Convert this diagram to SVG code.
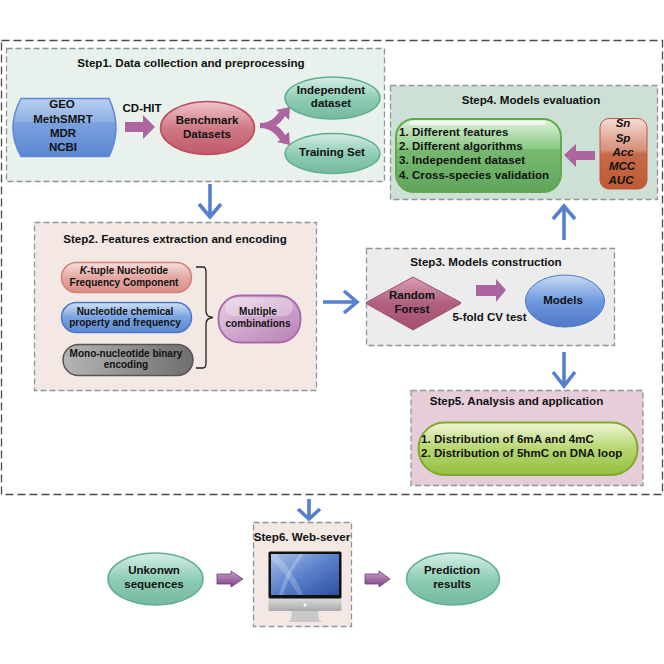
<svg xmlns="http://www.w3.org/2000/svg" width="664" height="664" viewBox="0 0 664 664">
<style>
text{font-family:"Liberation Sans",Arial,sans-serif;font-weight:700;fill:#111;text-anchor:middle}
.t{font-size:11.6px}.m{font-size:11.5px}.s{font-size:10px}.l{text-anchor:start;font-size:11.5px;letter-spacing:.07px}
.box{stroke:#8f9696;stroke-width:1.3;stroke-dasharray:6 3}
.blue{fill:none;stroke:#5680cf;stroke-width:3.6}
.pink{fill:#ac659f}
.gloss{fill:#fff;opacity:.3}
</style>
<defs>
<linearGradient id="gBlue" x1="0" y1="0" x2="0" y2="1"><stop offset="0" stop-color="#b9cff0"/><stop offset=".4" stop-color="#8fb0e4"/><stop offset=".42" stop-color="#7ba0de"/><stop offset="1" stop-color="#5c88d2"/></linearGradient>
<linearGradient id="gRed" x1="0" y1="0" x2="0" y2="1"><stop offset="0" stop-color="#f0c6cb"/><stop offset=".5" stop-color="#cf7a86"/><stop offset="1" stop-color="#bf5a68"/></linearGradient>
<linearGradient id="gTeal" x1="0" y1="0" x2="0" y2="1"><stop offset="0" stop-color="#d8efe6"/><stop offset=".5" stop-color="#8fcdb5"/><stop offset="1" stop-color="#74b99f"/></linearGradient>
<linearGradient id="gGreen" x1="0" y1="0" x2="0" y2="1"><stop offset="0" stop-color="#e0f2dc"/><stop offset=".4" stop-color="#8cca85"/><stop offset=".42" stop-color="#78b972"/><stop offset="1" stop-color="#5fa659"/></linearGradient>
<linearGradient id="gOrange" x1="0" y1="0" x2="0" y2="1"><stop offset="0" stop-color="#f5dcd6"/><stop offset=".45" stop-color="#d68f78"/><stop offset=".5" stop-color="#c66a48"/><stop offset="1" stop-color="#bd5a36"/></linearGradient>
<linearGradient id="gPinkPill" x1="0" y1="0" x2="0" y2="1"><stop offset="0" stop-color="#f6dedb"/><stop offset=".5" stop-color="#e3a8a2"/><stop offset="1" stop-color="#d98f88"/></linearGradient>
<linearGradient id="gBluePill" x1="0" y1="0" x2="0" y2="1"><stop offset="0" stop-color="#cfe0f5"/><stop offset=".5" stop-color="#79a3e0"/><stop offset="1" stop-color="#5b88d2"/></linearGradient>
<linearGradient id="gGrey" x1="0" y1="0" x2="1" y2="0"><stop offset="0" stop-color="#b5b5b5"/><stop offset="1" stop-color="#6e6e6e"/></linearGradient>
<linearGradient id="gPurple" x1="0" y1="0" x2="1" y2="1"><stop offset="0" stop-color="#e8cfe6"/><stop offset="1" stop-color="#b67fb5"/></linearGradient>
<linearGradient id="gRose" x1="0" y1="0" x2="0" y2="1"><stop offset="0" stop-color="#d9a0b6"/><stop offset=".5" stop-color="#b0607f"/><stop offset="1" stop-color="#a54e72"/></linearGradient>
<linearGradient id="gLime" x1="0" y1="0" x2="0" y2="1"><stop offset="0" stop-color="#eef6d8"/><stop offset=".5" stop-color="#b7d66f"/><stop offset="1" stop-color="#93bf40"/></linearGradient>
<linearGradient id="gModels" x1="0" y1="0" x2="0" y2="1"><stop offset="0" stop-color="#c9dcf4"/><stop offset=".5" stop-color="#6f9ade"/><stop offset="1" stop-color="#4f78c6"/></linearGradient>
<linearGradient id="gScreen" x1="0" y1="0" x2="1" y2="1"><stop offset="0" stop-color="#a8bfe6"/><stop offset=".5" stop-color="#5a80cb"/><stop offset="1" stop-color="#2f4f9f"/></linearGradient>
<linearGradient id="gSilver" x1="0" y1="0" x2="0" y2="1"><stop offset="0" stop-color="#dcdcdc"/><stop offset="1" stop-color="#a9a9a9"/></linearGradient>
<linearGradient id="gPurpleArrow" x1="0" y1="0" x2="0" y2="1"><stop offset="0" stop-color="#c9a0c9"/><stop offset="1" stop-color="#7c3f85"/></linearGradient>
</defs>
<rect width="664" height="664" fill="#fff"/>
<rect id="outer" x="1.500" y="40.500" width="661" height="454" fill="none" stroke="#4a4a4a" stroke-width="1.300" stroke-dasharray="8 4"/>

<g id="step1">
<rect class="box" x="6.500" y="48.500" width="378" height="133" fill="#e8f1eb"/>
<text class="t" x="191" y="67">Step1. Data collection and preprocessing</text>
</g>
<g id="sources">
<path d="M21 98.500H109Q123 128 109 156.500H21Q5 128 21 98.500Z" fill="url(#gBlue)" stroke="#5c88d8" stroke-width="1.500"/>
<text class="m" x="62" y="108">GEO</text><text class="m" x="63" y="123">MethSMRT</text><text class="m" x="63" y="137">MDR</text><text class="m" x="63" y="151">NCBI</text>
</g>
<g id="benchmark">
<ellipse cx="207.500" cy="128" rx="47" ry="26.500" fill="url(#gRed)" stroke="#be4a5c" stroke-width="1.500"/>
<text class="m" x="207" y="124">Benchmark</text><text class="m" x="207" y="138">Datasets</text>
</g>
<g id="independent">
<ellipse cx="332.500" cy="98" rx="47.500" ry="21" fill="url(#gTeal)" stroke="#5fae90" stroke-width="1.500"/>
<text class="m" x="331" y="94">Independent</text><text class="m" x="331" y="107">dataset</text>
</g>
<g id="training">
<ellipse cx="332.500" cy="153.500" rx="47.500" ry="20" fill="url(#gTeal)" stroke="#5fae90" stroke-width="1.500"/>
<text class="m" x="332" y="156">Training Set</text>
</g>

<g id="step2">
<rect class="box" x="34.500" y="222.500" width="282" height="168" fill="#f4e8e5"/>
<text class="t" x="175" y="243">Step2. Features extraction and encoding</text>
</g>
<g id="ktuple">
<rect x="61.500" y="262.500" width="130" height="30" rx="15" fill="url(#gPinkPill)" stroke="#d27f78" stroke-width="1.500"/>
<text class="s" x="124" y="274"><tspan font-style="italic">K</tspan>-tuple Nucleotide</text><text class="s" x="124" y="286">Frequency Component</text>
</g>
<g id="chemical">
<rect x="61.500" y="302.500" width="130" height="30" rx="15" fill="url(#gBluePill)" stroke="#4a78c8" stroke-width="1.500"/>
<text class="s" x="125" y="315">Nucleotide chemical</text><text class="s" x="125" y="326">property and frequency</text>
</g>
<g id="binary">
<rect x="63" y="344.500" width="130" height="31" rx="15.500" fill="url(#gGrey)" stroke="#555" stroke-width="1.500"/>
<text class="s" x="126" y="357">Mono-nucleotide binary</text><text class="s" x="126" y="368">encoding</text>
</g>
<g id="multiple">
<rect x="218.500" y="295.500" width="82" height="47" rx="22" fill="url(#gPurple)" stroke="#a768a8" stroke-width="1.800"/>
<rect class="gloss" x="225" y="298" width="68" height="18" rx="9"/>
<text class="s" x="258" y="315">Multiple</text><text class="s" x="258" y="327">combinations</text>
</g>

<g id="step3">
<rect class="box" x="366.500" y="248.500" width="248" height="97" fill="#ececec"/>
<text class="t" x="486" y="266">Step3. Models construction</text>
</g>
<g id="forest">
<path d="M413 277L460 302Q462 303 460 304L413 330L367 304Q365 303 367 302Z" fill="url(#gRose)" stroke="#a54e72" stroke-width="1"/>
<text class="m" x="412" y="299">Random</text><text class="m" x="412" y="313">Forest</text>
</g>
<text id="cvlabel" class="m" x="489.500" y="321">5-fold CV test</text>
<g id="models">
<ellipse cx="565" cy="301" rx="39.500" ry="26" fill="url(#gModels)" stroke="#4a78c8" stroke-width="1"/>
<text class="m" x="563" y="304">Models</text>
</g>

<g id="step4">
<rect class="box" x="390.500" y="85.500" width="267" height="114" fill="#cde0d5"/>
<text class="t" x="531" y="104">Step4. Models evaluation</text>
</g>
<g id="eval">
<rect x="396" y="119" width="165" height="73" rx="18" fill="url(#gGreen)" stroke="#62a84f" stroke-width="2"/>
<rect x="409" y="121" width="137" height="4" rx="2" fill="#fff" opacity=".6"/>
<text class="l" x="399" y="136">1. Different features</text>
<text class="l" x="399" y="150">2. Different algorithms</text>
<text class="l" x="399" y="164">3. Independent dataset</text>
<text class="l" x="399" y="179">4. Cross-species validation</text>
</g>
<g id="metrics">
<rect x="600" y="118.500" width="47" height="70.500" rx="9" fill="url(#gOrange)" stroke="#c8503e" stroke-width="1"/>
<text class="m" x="623" y="127" font-style="italic">Sn</text><text class="m" x="623" y="142" font-style="italic">Sp</text><text class="m" x="623" y="156" font-style="italic">Acc</text><text class="m" x="622" y="170" font-style="italic">MCC</text><text class="m" x="621" y="184" font-style="italic">AUC</text>
</g>

<g id="step5">
<rect class="box" x="411" y="390.500" width="232" height="95" fill="#e6cdd9"/>
<text class="t" x="516.500" y="405">Step5. Analysis and application</text>
</g>
<g id="analysis">
<rect x="418.500" y="422.500" width="219" height="52.500" rx="26" fill="url(#gLime)" stroke="#7ea92e" stroke-width="2"/>
<text class="l" x="421" y="443">1. Distribution of 6mA and 4mC</text>
<text class="l" x="421" y="457">2. Distribution of 5hmC on DNA loop</text>
</g>

<g id="step6">
<rect class="box" x="253.500" y="522.500" width="98" height="104" fill="#f4e8e5"/>
<text class="t" x="302" y="541">Step6. Web-sever</text>
</g>
<g id="monitor">
<path d="M292 611H318L319 620L322 622H288L291 620Z" fill="#c8c8c8"/>
<rect x="268.500" y="598" width="73" height="13" rx="1.500" fill="url(#gSilver)"/>
<rect x="268.500" y="551.500" width="73" height="47" rx="1.500" fill="#111"/>
<rect x="271" y="554" width="68" height="41" fill="url(#gScreen)"/>
<path d="M300 554C290 566 282 582 279 595H283C287 582 293 566 304 554Z" fill="#fff" opacity=".22"/>
<path d="M276 554C288 566 298 582 303 595H298C290 580 280 566 271 560V554Z" fill="#fff" opacity=".2"/>
<circle cx="305" cy="605" r="1.500" fill="#fff"/>
</g>
<g id="unknown">
<ellipse cx="155.500" cy="579" rx="47.500" ry="26" fill="url(#gTeal)" stroke="#5fae90" stroke-width="1.500"/>
<text class="m" x="154" y="574">Unkonwn</text><text class="m" x="154" y="588">sequences</text>
</g>
<g id="prediction">
<ellipse cx="453" cy="579" rx="46.500" ry="26" fill="url(#gTeal)" stroke="#5fae90" stroke-width="1.500"/>
<text class="m" x="452" y="574">Prediction</text><text class="m" x="452" y="588">results</text>
</g>

<g id="connectors">
<text class="m" x="142" y="112">CD-HIT</text>
<path class="pink" d="M125 122H143V115L155 127L143 139V132H125Z"/>
<path class="pink" d="M260 123C270 123 275 118 279 112L276 110L290 107L289 120L285 116C282 121 279 124 276 125.500C279 127 283 131 285 135L289 132L290 145L277 142L280 140C276 134 270 128 260 128Z"/>
<path class="pink" d="M595 151H576V144L564 155L576 167V160H595Z"/>
<path class="pink" d="M476 285H496V279L506 290L496 302V296H476Z"/>
<path class="blue" d="M210 184V217M199 204L210 217L221 204"/>
<path class="blue" d="M323 302H357M344 291L357 302L344 313"/>
<path class="blue" d="M564 240V206M553 219L564 206L575 219"/>
<path class="blue" d="M564 352V386M553 372L564 386L575 372"/>
<path class="blue" d="M309 499V519M298 509L309 519L320 509"/>
<path d="M217 574H231V571L243 579L231 587V584H217Z" fill="url(#gPurpleArrow)" stroke="#6b3a78" stroke-width=".8"/>
<path d="M365 574H379V571L390 579L379 587V584H365Z" fill="url(#gPurpleArrow)" stroke="#6b3a78" stroke-width=".8"/>
<path d="M196 267H203Q206 267 206 272V311Q206 317 213 317.500Q206 318 206 324V363Q206 368 203 368H196" fill="none" stroke="#222" stroke-width="1.300"/>
</g>
</svg>
